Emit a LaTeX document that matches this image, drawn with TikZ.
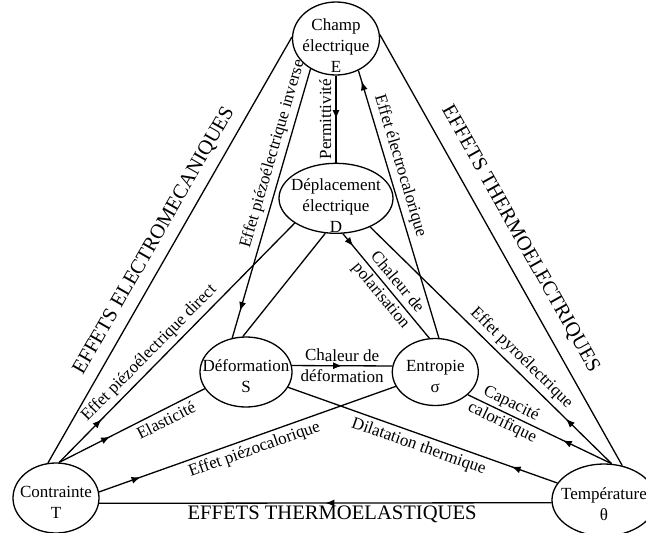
\documentclass[tikz,border=0pt]{standalone}
\usepackage{fontspec}
\setmainfont{Liberation Serif}
\usetikzlibrary{arrows.meta,positioning,shapes.geometric,decorations.markings}
\newcommand{\etiq}[2][10pt]{\smash{\makebox[0pt]{\raisebox{-#1}{\begin{tabular}{@{}c@{}}#2\end{tabular}}}}}
\newcommand{\grand}{\fontsize{20.6}{24}\selectfont}

\begin{document}
\begin{tikzpicture}[
    x=1pt, y=-1pt,
    font=\fontsize{17}{21}\selectfont,
    line width=1.3pt,
    etat/.style 2 args={draw, ellipse, inner sep=0pt, minimum width=#1, minimum height=#2},
    lab/.style={sloped, inner sep=4pt},
    titre/.style={font=\grand, inner sep=2pt},
    fleche/.style={postaction={decorate}, decoration={markings, mark=at position #1 with {\arrow{Latex[length=9pt,width=7pt]}}}}
]
\useasboundingbox (0,0) rectangle (646,533);
\clip (0,0) rectangle (646,533);
% etats
\node[etat={87pt}{73pt}] (E) at (336,38.5) {\etiq[13pt]{Champ\\électrique\\E}};
\node[etat={114pt}{70pt}, below=87pt of E] (D) {\etiq[13pt]{Déplacement\\électrique\\D}};
\node[etat={92pt}{70pt}] (S) at (246,372) {\etiq{Déformation\\S}};
\node[etat={86pt}{67pt}, right=99pt of S] (sigma) {\etiq{Entropie\\σ}};
\node[etat={86pt}{70pt}] (T) at (56,498) {\etiq{Contrainte\\T}};
\node[etat={104pt}{72pt}] (theta) at (604,500) {\etiq{Température\\θ}};
% grands cotes
\draw (E.178) -- (T.103) node[titre, sloped, above=7pt, pos=0.5] (l-em) {EFFETS ELECTROMECANIQUES};
\draw (E.5) -- (theta.62) node[titre, sloped, above=11pt, pos=0.5] (l-te) {EFFETS THERMOELECTRIQUES};
\draw[fleche=0.5] (theta.183) -- (T.-7) node[titre, below, pos=0.485] (l-tel) {EFFETS THERMOELASTIQUES};
% effets
\draw[fleche=0.5] (E.south) -- (D.north) node[midway, above, rotate=90, inner sep=4pt] (l-perm) {Permittivité};
\draw[fleche=0.9] (E.-130) -- (S.112) node[lab, above, pos=0.33] (l-inv) {Effet piézoélectrique inverse};
\draw[fleche=0.96] (sigma.84) -- (E.-55) node[lab, above, pos=0.63] (l-eca) {Effet électrocalorique};
\draw[fleche=0.18] (T.85) -- (D.-149) node[lab, above, pos=0.42] (l-dir) {Effet piézoélectrique direct};
\draw[fleche=0.35] (T.85) -- (S.-158) node[lab, below, pos=0.70] (l-ela) {Elasticité};
\draw[fleche=0.14] (T.8) -- (sigma.-160) node[lab, below, pos=0.51] (l-pca) {Effet piézocalorique};
\draw[fleche=0.5] (S.8) -- (sigma.172) node[lab, align=center, midway] (l-cdef) {Chaleur de\\déformation};
\draw[fleche=0.12] (D.-79) -- (sigma.100) node[lab, align=center, pos=0.53] (l-cpol) {Chaleur de\\polarisation};
\draw (D.-107) -- (S.95);
\draw[fleche=0.19] (theta.78) -- (D.-40) node[lab, above, pos=0.41] (l-pyro) {Effet pyroélectrique};
\draw[fleche=0.34] (theta.78) -- (sigma.-35) node[lab, align=center, pos=0.73] (l-cap) {Capacité\\calorifique};
\draw[fleche=0.17] (theta.160) -- (S.-20) node[lab, below, pos=0.50] (l-dil) {Dilatation thermique};
\end{tikzpicture}
\end{document}
